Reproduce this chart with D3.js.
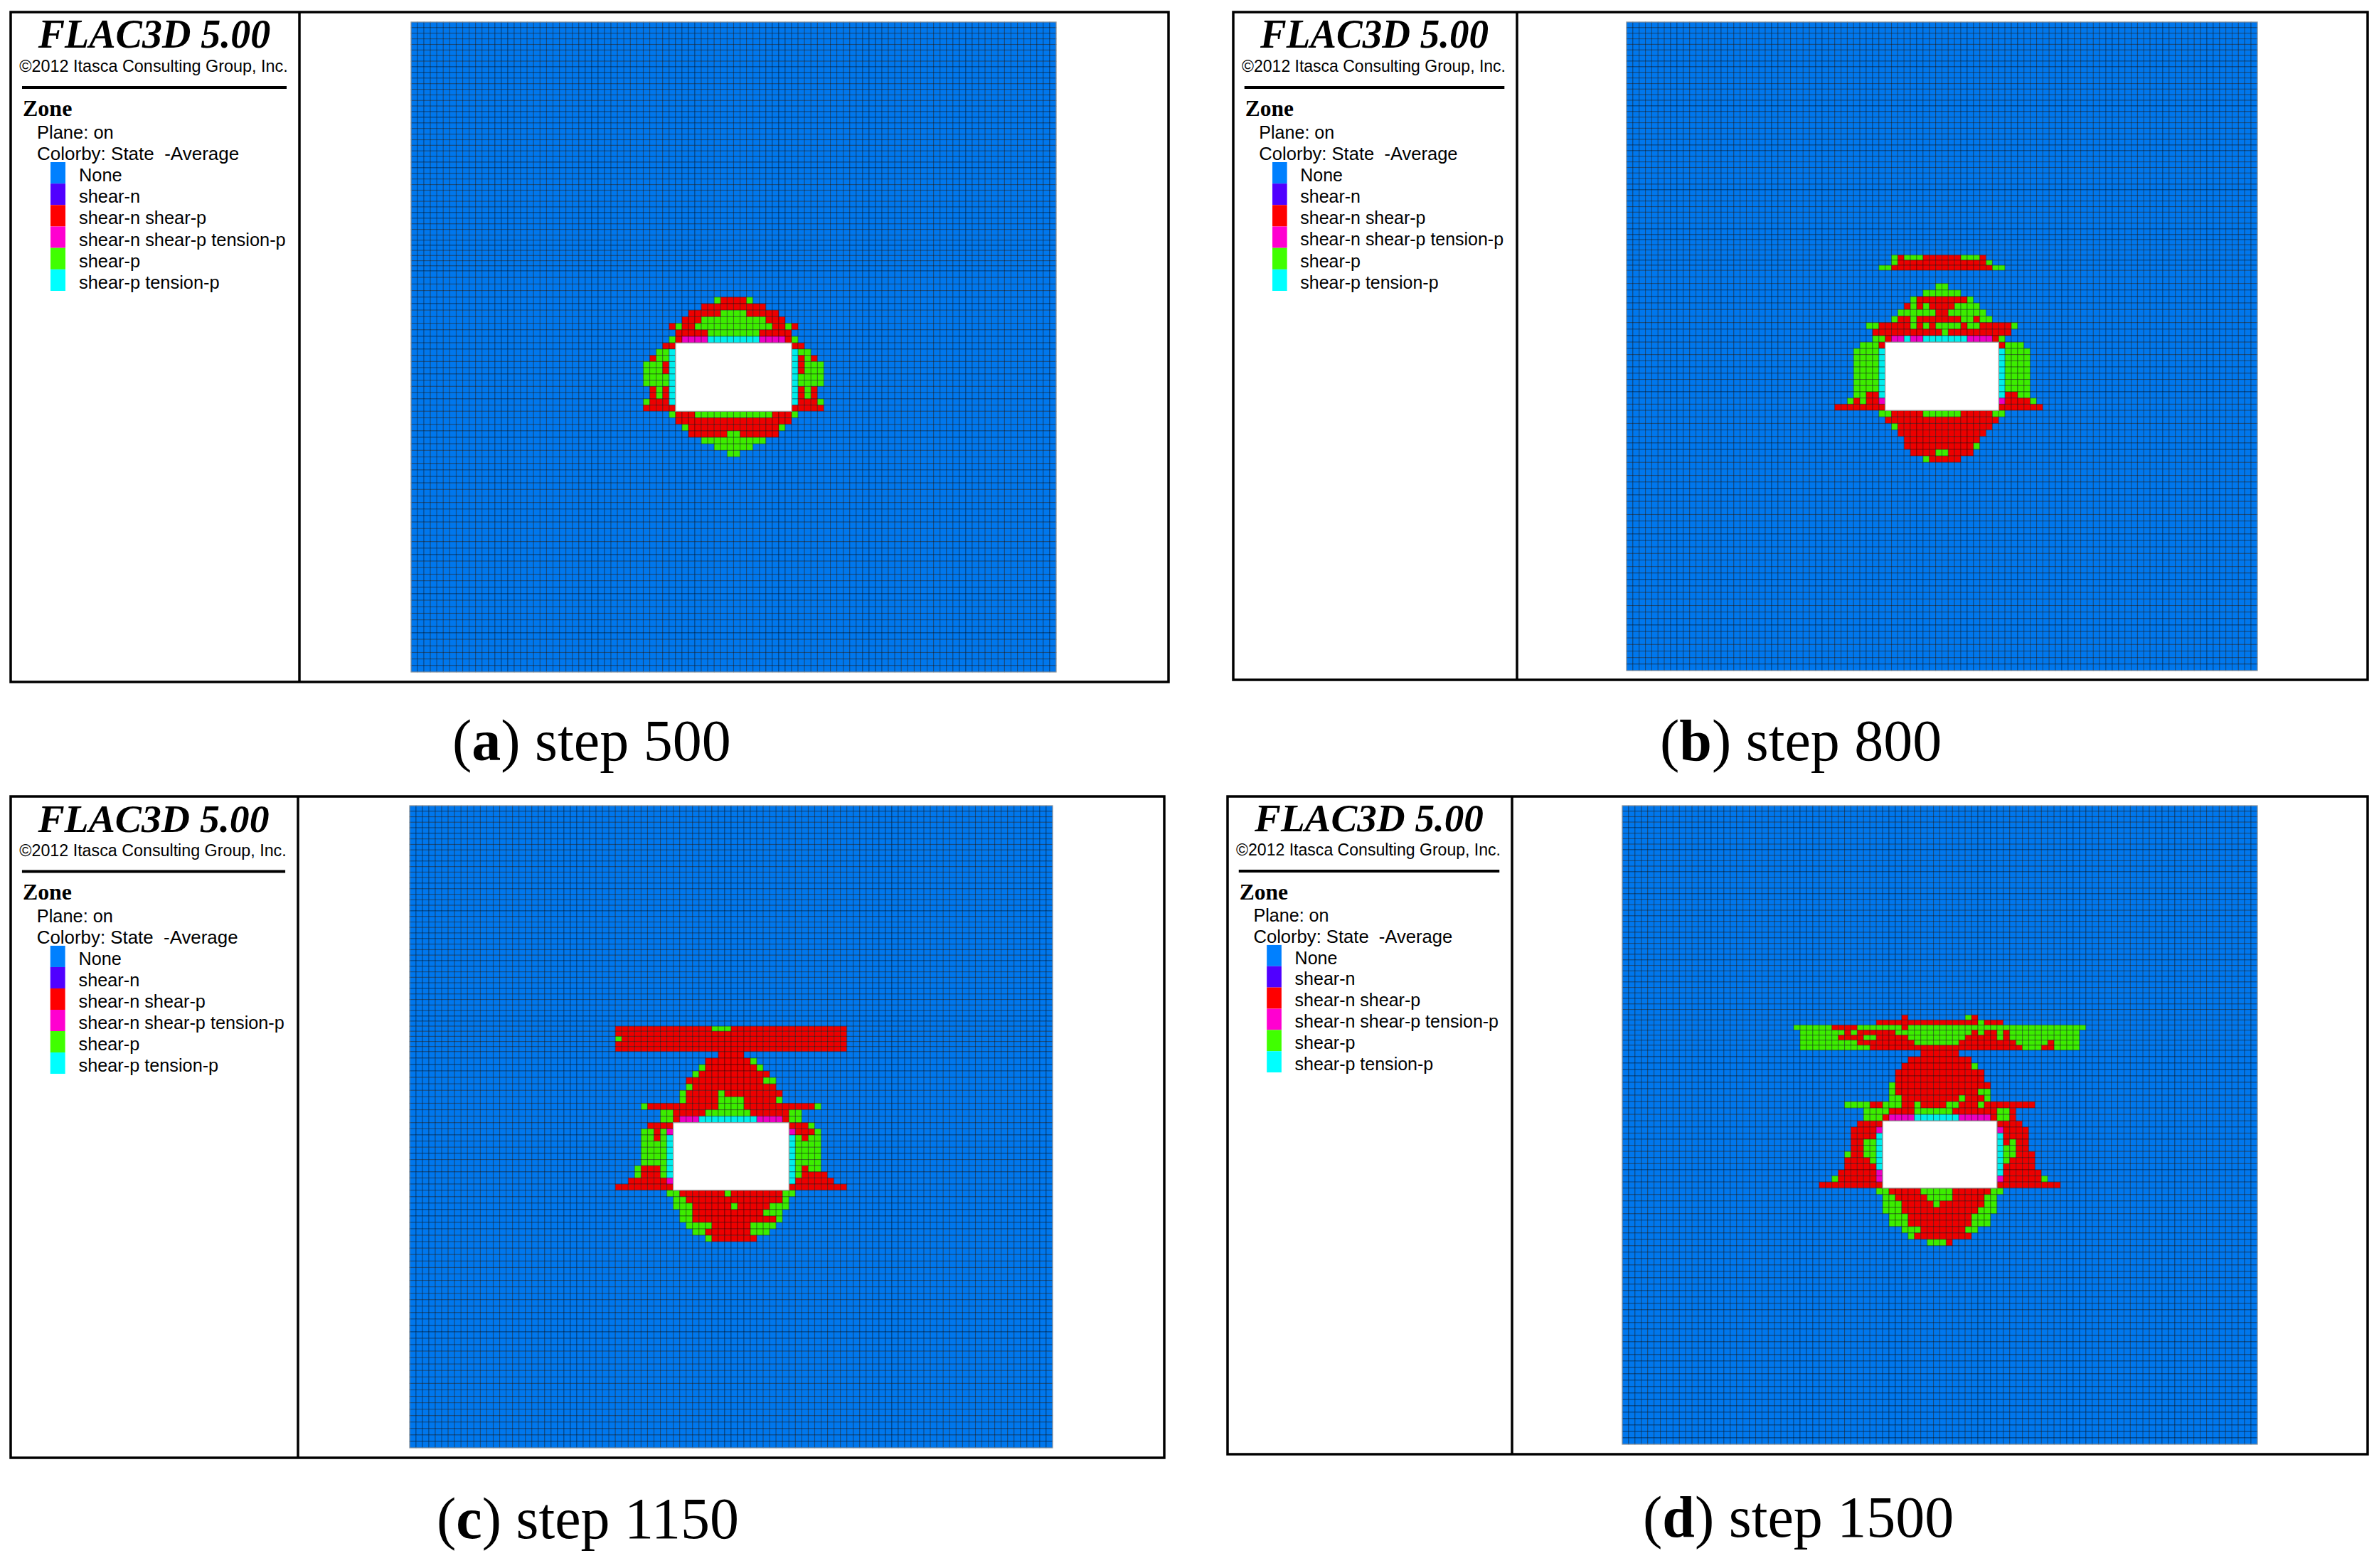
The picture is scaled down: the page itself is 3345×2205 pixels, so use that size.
<!DOCTYPE html>
<html>
<head>
<meta charset="utf-8">
<title>FLAC3D plastic zone</title>
<script src="https://cdn.jsdelivr.net/npm/d3@7"></script>
<style>
  body { margin: 0; background: #fff; }
  svg { display: block; }
</style>
</head>
<body>
<svg id="chart" width="3345" height="2205"></svg>
<script>
// legend
var stateCodes = ["N", "P", "R", "M", "G", "C"];
var stateNames = ["None", "shear-n", "shear-n shear-p", "shear-n shear-p tension-p", "shear-p", "shear-p tension-p"];
var stateColors = ["#0080ff", "#5000ff", "#ff0000", "#ff00d0", "#40ff00", "#00ffff"];

// mesh: 100 columns, rows come in groups of different thickness (top to bottom)
var meshColumns = 100;
var rowGroupCount = [38, 7, 11, 11, 40];
var rowGroupThickness = [7.87, 7.2, 9.18, 8.73, 9.15];
var cavityFirstColumn = 41, cavityColumns = 18;
var cavityFirstRow = 56, cavityRows = 11;

var captionLetters = ["a", "b", "c", "d"];
var captionSteps = ["step 500", "step 800", "step 1150", "step 1500"];

// failed zones, one string per row: row relative to cavity top, then runs of
// state + columns relative to the cavity's left edge. Everything else is "None".
var zonesStep500 = [
  "-7 G6 R7-10 G11",
  "-6 R4-13",
  "-5 R2-6 G7-10 R11-15",
  "-4 R1-3 G4-13 R14-16",
  "-3 R-1 G0 R1-2 G3-14 R15-16 G17 R18",
  "-2 R0-4 G5-12 R13-17",
  "-1 G-1 R0 M1-4 C5-12 M13-16 R17 G18",
  "0 R-2--1 R18-19",
  "1 G-3--2 C-1 C18 G19-20",
  "2 R-4 G-3--2 C-1 C18 R19 G20 R21",
  "3 G-5--3 R-2 C-1 C18 R19 G20-22",
  "4 G-5--3 R-2 C-1 C18 R19 G20-22",
  "5 G-5--2 C-1 C18 G19-22",
  "6 G-5--2 C-1 C18 G19-22",
  "7 R-4 G-3 R-2 C-1 C18 R19 G20 R21",
  "8 R-4 G-3 R-2 C-1 C18 R19 G20 R21",
  "9 G-5 R-4--2 C-1 C18 R19-21 G22",
  "10 R-5--1 R18-22",
  "11 G-1 R0-2 G3-14 R15-17 G18",
  "12 R0-17",
  "13 G1 R2-15 G16",
  "14 R2-7 G8-9 R10-15",
  "15 G4-13",
  "16 G6-11",
  "17 G8-9"
];

var zonesStep800 = [
  "-14 G1 R2 G3-5 R6-11 G12-14 R15",
  "-13 G1 R2-15 G16",
  "-12 G-1-0 R1-16 G17-18",
  "-9 G8-9",
  "-8 G6-11",
  "-7 G4 R5-12 G13",
  "-6 R3 G4 R5 G6 R7-10 G11-14",
  "-5 G2-7 R8-9 G10-15",
  "-4 G1 R2-3 G4 R5-11 G12-13 R14 G15-16",
  "-3 G-3--2 R-1-3 G4 R5 G6 R7 G8-11 R12 G13-14 R15-19 G20",
  "-2 R-2-8 G9 R10-19",
  "-1 G-2--1 R0 M1-2 C3 M4-5 C6-12 M13-16 R17 G18",
  "0 G-4--2 R-1 R18 G19-21",
  "1 G-5--2 C-1 C18 G19-22",
  "2 G-5--2 C-1 C18 G19-22",
  "3 G-5--2 C-1 C18 G19-22",
  "4 G-5--2 C-1 C18 G19-22",
  "5 G-5--2 C-1 C18 G19-22",
  "6 G-5--2 C-1 C18 G19-22",
  "7 G-5--2 C-1 C18 G19-22",
  "8 G-5--4 R-3--2 C-1 C18 R19-20 G21-22",
  "9 G-6 R-5 G-4 R-3--2 M-1 M18 R19-22 G23",
  "10 R-8--1 R18-24",
  "11 G-1-0 R1-5 G6-11 R12-16 G17-18",
  "12 R0-17",
  "13 G1 R2-16",
  "14 R2-15",
  "15 R3-14",
  "16 R3-13 G14",
  "17 R4-7 G8-9 R10-13",
  "18 G6 R7-11"
];

var zonesStep1150 = [
  "-16 R-9-5 G6-8 R9-26",
  "-15 R-9-26",
  "-14 G-9 R-8-26",
  "-13 R-9-26",
  "-12 R-9-26",
  "-11 R7-10",
  "-10 R5-11 G12",
  "-9 G4 R5-12 G13",
  "-8 G3 R4-14",
  "-7 R2-13 G14-15",
  "-6 G2 R3-15",
  "-5 G1 R2-6 G7 R8-16",
  "-4 G1 R2-6 G7-10 R11-15 G16",
  "-3 G-5 R-4-6 G7-10 R11-21 G22",
  "-2 G-2--1 R0-4 G5-11 R12-17 G18-19",
  "-1 G-2--1 R0 M1-3 C4-12 M13-16 R17 G18-19",
  "0 R-4--1 R18-20 G21",
  "1 G-5--4 R-3 G-2 M-1 M18 R19-21 G22",
  "2 G-5--4 R-3 G-2 C-1 C18 G19 R20 G21-22",
  "3 G-5--2 C-1 C18 G19-22",
  "4 G-5--2 C-1 C18 G19-22",
  "5 G-5--2 C-1 C18 G19-22",
  "6 G-5--2 C-1 C18 G19-22",
  "7 G-6 R-5--3 G-2 C-1 C18 G19 R20 G21-22",
  "8 G-6 R-5--3 G-2 C-1 C18 G19 R20-23",
  "9 R-7--2 M-1 C18 R19-24",
  "10 R-9--1 R18-26",
  "11 G-1-0 R1-7 G8 R9-16 G17-18",
  "12 G0-1 R2-16 G17",
  "13 G0-2 R3-8 G9 R10-14 G15-17",
  "14 G1-2 R3-13 G14-16",
  "15 G1-2 R3-15 G16",
  "16 G2-5 R6-11 G12-15",
  "17 G3-4 R5-11 G12-14",
  "18 G5 R6-12"
];

var zonesStep1500 = [
  "-18 R3 G13 R14",
  "-17 R-1-14 G15 R16-18",
  "-16 G-14--9 R-8--5 G-4-2 R3 G4-31",
  "-15 G-13--7 R-6 G-5 R-4-1 G2-13 R14 G15 R16-17 G18 R19 G20-30",
  "-14 G-13--8 R-7--4 G-3--2 R-1-3 G4-12 R13-17 G18 R19 G20-30",
  "-13 G-13--5 R-4-4 G5-11 R12-20 G21-25 R26 G27-30",
  "-12 G-13--3 R-2-21 G22-24 R25-26 G27-30",
  "-11 R6-11",
  "-10 R4-13",
  "-9 R3-13 G14",
  "-8 R2-15",
  "-7 R2-15",
  "-6 G1 R2-16",
  "-5 G1 R2-14 G15-16",
  "-4 G1-2 R3-11 G12 R13-15 G16",
  "-3 G-6--3 R-2--1 G0-2 R3-4 G5 R6-9 G10-11 R12-14 G15 R16-23",
  "-2 G-3-0 R1-4 G5-10 R11-17 G18-19 R20",
  "-1 G-3--1 R0 M1-4 C5-11 M12-16 R17 G18-19 R20",
  "0 R-4--1 R18-21",
  "1 R-5--2 M-1 M18 R19-22",
  "2 R-5--2 C-1 C18 R19-22",
  "3 R-5--4 G-3--2 C-1 C18 R19 G20 R21-22",
  "4 R-5--4 G-3--2 C-1 C18 G19-20 R21-22",
  "5 G-6 R-5--4 G-3--2 C-1 C18 G19-20 R21-23",
  "6 R-6--3 G-2 C-1 C18 G19 R20-23",
  "7 R-6--2 C-1 C18 R19-23",
  "8 R-7--2 M-1 C18 R19-24",
  "9 G-8 R-7--2 M-1 M18 R19-24 G25",
  "10 R-10--1 R18-27",
  "11 G-1-0 R1-5 G6-10 R11-16 G17-18",
  "12 G0-1 R2-6 G7-10 R11-15 G16-17",
  "13 G0-2 R3-7 G8 R9-15 G16-17",
  "14 G0-2 R3-14 G15-17",
  "15 G1-3 R4-13 G14-16",
  "16 G1-3 R4-13 G14-16",
  "17 G3-5 R6-12 G13-14",
  "18 G4 R5-13",
  "19 G7-9 R10"
];

var panelZones = [zonesStep500, zonesStep800, zonesStep1150, zonesStep1500];

// where each panel sits on the page (sy squeezes the sidebar text a little per panel)
var layout = [
  {x0: 15,   y0: 17,   x1: 1643, y1: 959,  div: 421,  sy: 1,     gx0: 578,  gx1: 1485, gy0: 31,   gy1: 945,  capX: 636,  capY: 1069},
  {x0: 1734, y0: 17,   x1: 3329, y1: 956,  div: 2133, sy: 1,     gx0: 2287, gx1: 3174, gy0: 31,   gy1: 943,  capX: 2334, capY: 1069},
  {x0: 15,   y0: 1120, x1: 1637, y1: 2050, div: 419,  sy: 0.995, gx0: 576,  gx1: 1480, gy0: 1133, gy1: 2036, capX: 614,  capY: 2163},
  {x0: 1726, y0: 1120, x1: 3329, y1: 2045, div: 2126, sy: 0.99,  gx0: 2281, gx1: 3174, gy0: 1133, gy1: 2031, capX: 2310, capY: 2161}
];

var svg = d3.select("#chart");

var legendColor = d3.scaleOrdinal().domain(stateCodes).range(stateColors);
// mesh cells come out a little darker than the legend swatches
var cellColor = d3.scaleOrdinal().domain(stateCodes).range(stateColors.map(function(c){
    var r = d3.rgb(c);
    return d3.rgb(r.r * 0.93, r.g * 0.93, r.b * 0.93).formatHex();
}));

/**
 * Turns the run strings of a panel into a lookup "row,col" -> state
 */
function readZones(rows){
    var lookup = new Map();
    rows.forEach(function(line){
        var parts = line.split(" ");
        var row = +parts[0] + cavityFirstRow;
        parts.slice(1).forEach(function(run){
            var m = run.match(/^([A-Z])(-?\d+)(?:-(-?\d+))?$/);
            var from = +m[2];
            var to = m[3] === undefined ? from : +m[3];
            for (var c = from; c <= to; c++){
                lookup.set(row + "," + (c + cavityFirstColumn), m[1]);
            }
        });
    });
    return lookup;
}

function drawSidebar(g, box){
    var s = (box.div - box.x0) / 406;
    var side = g.append("g").attr("transform", "translate(" + box.x0 + "," + box.y0 + ") scale(" + s + "," + box.sy + ")");

    side.append("text").attr("x", 202).attr("y", 50)
        .attr("text-anchor", "middle")
        .style("font", "italic bold 56px 'Liberation Serif'")
        .text("FLAC3D 5.00");
    side.append("text").attr("x", 201).attr("y", 84)
        .attr("text-anchor", "middle")
        .style("font", "23.4px 'Liberation Sans'")
        .text("\u00a92012 Itasca Consulting Group, Inc.");
    side.append("line").attr("x1", 16).attr("x2", 388).attr("y1", 106).attr("y2", 106)
        .attr("stroke", "#000").attr("stroke-width", 4);
    side.append("text").attr("x", 17).attr("y", 146)
        .style("font", "bold 32px 'Liberation Serif'")
        .text("Zone");
    side.append("text").attr("x", 37).attr("y", 178)
        .style("font", "25.5px 'Liberation Sans'")
        .text("Plane: on");
    side.append("text").attr("x", 37).attr("y", 208)
        .style("font", "26px 'Liberation Sans'")
        .style("white-space", "pre")
        .text("Colorby: State  -Average");

    var ly = d3.scaleBand().domain(stateCodes).range([211, 392]);
    side.selectAll("rect.swatch").data(stateCodes).enter().append("rect")
        .attr("class", "swatch")
        .attr("x", 56).attr("width", 21)
        .attr("y", function(d){ return ly(d); })
        .attr("height", ly.bandwidth())
        .attr("fill", function(d){ return legendColor(d); });
    side.selectAll("text.entry").data(stateCodes).enter().append("text")
        .attr("class", "entry")
        .attr("x", 96)
        .attr("y", function(d){ return ly(d) + 27; })
        .style("font", "25.4px 'Liberation Sans'")
        .text(function(d, i){ return stateNames[i]; });
}

function drawMesh(g, box, zones){
    var lookup = readZones(zones);

    // row edges from the group thicknesses
    var thick = [];
    rowGroupCount.forEach(function(n, i){
        d3.range(n).forEach(function(){ thick.push(rowGroupThickness[i]); });
    });
    var edges = [0].concat(Array.from(d3.cumsum(thick)));

    var x = d3.scaleBand().domain(d3.range(meshColumns)).range([box.gx0, box.gx1]);
    var y = d3.scaleLinear().domain([0, d3.sum(thick)]).range([box.gy0, box.gy1]);

    var cells = [];
    thick.forEach(function(t, r){
        d3.range(meshColumns).forEach(function(c){
            var inCavity = r >= cavityFirstRow && r < cavityFirstRow + cavityRows &&
                           c >= cavityFirstColumn && c < cavityFirstColumn + cavityColumns;
            if (!inCavity) cells.push({r: r, c: c, s: lookup.get(r + "," + c) || "N"});
        });
    });

    g.append("g").selectAll("rect").data(cells).enter().append("rect")
        .attr("x", function(d){ return x(d.c); })
        .attr("y", function(d){ return y(edges[d.r]); })
        .attr("width", x.bandwidth())
        .attr("height", function(d){ return y(edges[d.r + 1]) - y(edges[d.r]); })
        .attr("fill", function(d){ return cellColor(d.s); })
        .attr("stroke", "#000")
        .attr("stroke-opacity", 0.36)
        .attr("stroke-width", 1.1);

    // cavity
    g.append("rect")
        .attr("x", x(cavityFirstColumn))
        .attr("y", y(edges[cavityFirstRow]))
        .attr("width", x.bandwidth() * cavityColumns)
        .attr("height", y(edges[cavityFirstRow + cavityRows]) - y(edges[cavityFirstRow]))
        .attr("fill", "#fff")
        .attr("stroke", "#999")
        .attr("stroke-width", 1.2);

    // mesh outline
    g.append("rect")
        .attr("x", box.gx0).attr("y", box.gy0)
        .attr("width", box.gx1 - box.gx0).attr("height", box.gy1 - box.gy0)
        .attr("fill", "none")
        .attr("stroke", "#9aa6b2")
        .attr("stroke-width", 1);
}

layout.forEach(function(box, i){
    var g = svg.append("g");

    drawMesh(g, box, panelZones[i]);
    drawSidebar(g, box);

    g.append("rect")
        .attr("x", box.x0).attr("y", box.y0)
        .attr("width", box.x1 - box.x0).attr("height", box.y1 - box.y0)
        .attr("fill", "none").attr("stroke", "#000").attr("stroke-width", 3.5);
    g.append("line")
        .attr("x1", box.div).attr("x2", box.div)
        .attr("y1", box.y0).attr("y2", box.y1)
        .attr("stroke", "#000").attr("stroke-width", 3.5);

    var cap = g.append("text")
        .attr("x", box.capX).attr("y", box.capY)
        .style("font", "82px 'Liberation Serif'");
    cap.append("tspan").text("(");
    cap.append("tspan").style("font-weight", "bold").text(captionLetters[i]);
    cap.append("tspan").text(") " + captionSteps[i]);
});
</script>
</body>
</html>
